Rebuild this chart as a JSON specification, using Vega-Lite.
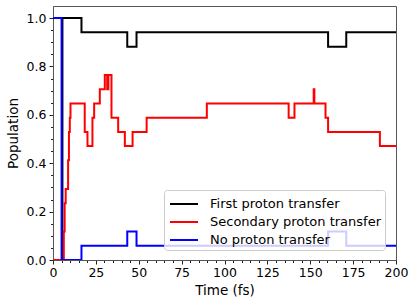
{
  "$schema": "https://vega.github.io/schema/vega-lite/v6.json",
  "width": 343,
  "height": 254,
  "autosize": {"type": "none"},
  "padding": {"left": 53, "top": 6, "right": 20, "bottom": 47},
  "background": "white",
  "config": {
    "font": "DejaVu Sans",
    "view": {"stroke": "#555", "strokeWidth": 1}
  },
  "data": {
    "values": [
      {"t": 0, "v": 0, "s": "First proton transfer"},
      {"t": 5.5, "v": 1, "s": "First proton transfer"},
      {"t": 16.6, "v": 0.941, "s": "First proton transfer"},
      {"t": 43.3, "v": 0.882, "s": "First proton transfer"},
      {"t": 48.7, "v": 0.941, "s": "First proton transfer"},
      {"t": 160.4, "v": 0.882, "s": "First proton transfer"},
      {"t": 171, "v": 0.941, "s": "First proton transfer"},
      {"t": 200, "v": 0.941, "s": "First proton transfer"},

      {"t": 0, "v": 0, "s": "Secondary proton transfer"},
      {"t": 6.3, "v": 0.118, "s": "Secondary proton transfer"},
      {"t": 6.8, "v": 0.235, "s": "Secondary proton transfer"},
      {"t": 7.4, "v": 0.294, "s": "Secondary proton transfer"},
      {"t": 8.8, "v": 0.412, "s": "Secondary proton transfer"},
      {"t": 9.3, "v": 0.529, "s": "Secondary proton transfer"},
      {"t": 9.8, "v": 0.588, "s": "Secondary proton transfer"},
      {"t": 10.2, "v": 0.647, "s": "Secondary proton transfer"},
      {"t": 18.5, "v": 0.529, "s": "Secondary proton transfer"},
      {"t": 20.1, "v": 0.471, "s": "Secondary proton transfer"},
      {"t": 23, "v": 0.588, "s": "Secondary proton transfer"},
      {"t": 24, "v": 0.647, "s": "Secondary proton transfer"},
      {"t": 27.3, "v": 0.706, "s": "Secondary proton transfer"},
      {"t": 30.2, "v": 0.765, "s": "Secondary proton transfer"},
      {"t": 31.6, "v": 0.706, "s": "Secondary proton transfer"},
      {"t": 32.3, "v": 0.765, "s": "Secondary proton transfer"},
      {"t": 34.1, "v": 0.588, "s": "Secondary proton transfer"},
      {"t": 38, "v": 0.529, "s": "Secondary proton transfer"},
      {"t": 41.9, "v": 0.471, "s": "Secondary proton transfer"},
      {"t": 46.4, "v": 0.529, "s": "Secondary proton transfer"},
      {"t": 54.6, "v": 0.588, "s": "Secondary proton transfer"},
      {"t": 89.7, "v": 0.647, "s": "Secondary proton transfer"},
      {"t": 137.4, "v": 0.588, "s": "Secondary proton transfer"},
      {"t": 140.8, "v": 0.647, "s": "Secondary proton transfer"},
      {"t": 152, "v": 0.706, "s": "Secondary proton transfer"},
      {"t": 152.4, "v": 0.647, "s": "Secondary proton transfer"},
      {"t": 158.9, "v": 0.588, "s": "Secondary proton transfer"},
      {"t": 160.4, "v": 0.529, "s": "Secondary proton transfer"},
      {"t": 190.6, "v": 0.471, "s": "Secondary proton transfer"},
      {"t": 200, "v": 0.471, "s": "Secondary proton transfer"},

      {"t": 0, "v": 1, "s": "No proton transfer"},
      {"t": 5, "v": 0, "s": "No proton transfer"},
      {"t": 16.6, "v": 0.0588, "s": "No proton transfer"},
      {"t": 43.3, "v": 0.118, "s": "No proton transfer"},
      {"t": 48.7, "v": 0.0588, "s": "No proton transfer"},
      {"t": 160.4, "v": 0.118, "s": "No proton transfer"},
      {"t": 171, "v": 0.0588, "s": "No proton transfer"},
      {"t": 200, "v": 0.0588, "s": "No proton transfer"}
    ]
  },
  "mark": {"type": "line", "interpolate": "step-after", "strokeWidth": 2, "clip": true},
  "encoding": {
    "x": {
      "field": "t",
      "type": "quantitative",
      "scale": {"domain": [0, 200], "nice": false},
      "axis": {
        "title": "Time (fs)",
        "titleFontSize": 13.5,
        "titleFontWeight": "normal",
        "titleColor": "#000",
        "titlePadding": 5,
        "values": [0,5,10,15,20,25,30,35,40,45,50,55,60,65,70,75,80,85,90,95,100,105,110,115,120,125,130,135,140,145,150,155,160,165,170,175,180,185,190,195,200],
        "labelExpr": "datum.value % 25 === 0 ? format(datum.value, 'd') : ''",
        "labelOverlap": false,
        "labelFlush": false,
        "labelFontSize": 12.5,
        "labelColor": "#000",
        "labelPadding": 2,
        "tickSize": {"condition": {"test": "datum.value % 25 === 0", "value": 4}, "value": 2.5},
        "tickColor": "#222",
        "domainColor": "#555",
        "grid": false
      }
    },
    "y": {
      "field": "v",
      "type": "quantitative",
      "scale": {"domain": [0, 1.05], "nice": false},
      "axis": {
        "title": "Population",
        "titleFontSize": 13.5,
        "titleFontWeight": "normal",
        "titleColor": "#000",
        "titlePadding": 6,
        "values": [0,0.05,0.1,0.15,0.2,0.25,0.3,0.35,0.4,0.45,0.5,0.55,0.6,0.65,0.7,0.75,0.8,0.85,0.9,0.95,1.0],
        "labelExpr": "abs(datum.value*5 - round(datum.value*5)) < 0.001 ? format(datum.value, '.1f') : ''",
        "labelOverlap": false,
        "labelFlush": false,
        "labelFontSize": 12.5,
        "labelColor": "#000",
        "labelPadding": 3,
        "tickSize": {"condition": {"test": "abs(datum.value*5 - round(datum.value*5)) < 0.001", "value": 4}, "value": 2.5},
        "tickColor": "#222",
        "domainColor": "#555",
        "grid": false
      }
    },
    "color": {
      "field": "s",
      "type": "nominal",
      "scale": {
        "domain": ["First proton transfer", "Secondary proton transfer", "No proton transfer"],
        "range": ["#000000", "#ff0000", "#0000ff"]
      },
      "legend": {
        "title": null,
        "orient": "none",
        "legendX": 111,
        "legendY": 184,
        "symbolType": "M-1.4,0H1.4",
        "symbolSize": 400,
        "symbolStrokeWidth": 2,
        "symbolOffset": 6,
        "labelFontSize": 13,
        "labelColor": "#000",
        "labelOffset": 15,
        "labelLimit": 300,
        "rowPadding": 0,
        "padding": 3,
        "fillColor": "rgba(255,255,255,0.8)",
        "strokeColor": "#cccccc",
        "cornerRadius": 3
      }
    }
  }
}
